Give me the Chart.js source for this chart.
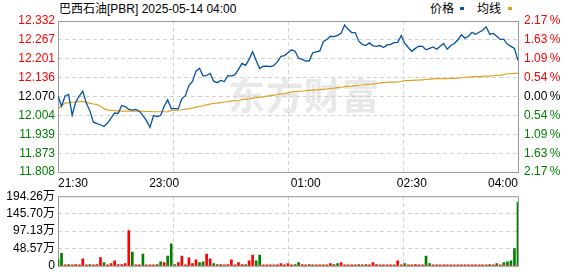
<!DOCTYPE html>
<html><head><meta charset="utf-8">
<script src="https://cdn.jsdelivr.net/npm/chart.js@4"></script>
<style>
html,body{margin:0;padding:0;background:#fff;width:578px;height:276px;overflow:hidden;}
#wrap{position:relative;width:578px;height:276px;font-family:"Liberation Sans",Arial,"Noto Sans CJK SC",sans-serif;font-size:12px;color:#000;}
.abs{position:absolute;white-space:nowrap;line-height:14px;}
#wm{position:absolute;left:228px;top:73px;font-family:"Noto Sans CJK SC",sans-serif;font-weight:bold;font-size:37px;line-height:42px;color:#e8e8e8;letter-spacing:1px;white-space:nowrap;}
canvas{position:absolute;left:0;}
.mk{position:absolute;width:4px;height:3px;}
</style>
</head>
<body>
<div id="wrap">
  <div id="wm">东方财富</div>
  <div class="abs" style="left:59px;top:2px;">巴西石油[PBR] 2025-05-14 04:00</div>
  <div class="abs" style="left:430px;top:2px;">价格</div>
  <div class="mk" style="left:460px;top:7px;background:#0452a4;"></div>
  <div class="abs" style="left:477px;top:2px;">均线</div>
  <div class="mk" style="left:508px;top:7px;background:#e0a21e;"></div>
  <canvas id="pc" width="578" height="190" style="top:0;"></canvas>
  <canvas id="vc" width="578" height="90" style="top:186px;"></canvas>
</div>
<script>
// ---- data ----
const STEP = 3; // minutes between samples, 21:30 .. 04:00 (390 minutes)
const timeTickMinutes = [0, 90, 210, 300, 390];
const timeTickLabels = ['21:30', '23:00', '01:00', '02:30', '04:00'];
const gridMinutes = [97.5, 195, 292.5];
const priceTicks = [11.808, 11.873, 11.939, 12.004, 12.070, 12.136, 12.201, 12.267, 12.332];
const priceTickLabels = ['11.808','11.873','11.939','12.004','12.070','12.136','12.201','12.267','12.332'];
const pctTickLabels = ['2.17\u2009%','1.63\u2009%','1.09\u2009%','0.54\u2009%','0.00\u2009%','0.54\u2009%','1.09\u2009%','1.63\u2009%','2.17\u2009%'];
const volTicks = [0, 48.57, 97.13, 145.70, 194.26];
const volTickLabels = ['0', '48.57万', '97.13万', '145.70万', '194.26万'];

const priceValues = [
 12.073,12.036,12.072,12.077,12.005,12.050,12.071,12.088,12.047,12.021,
 11.981,11.976,11.972,11.966,11.978,11.995,12.013,12.011,12.039,12.035,
 12.025,12.023,12.025,12.019,12.004,11.986,11.963,12.004,12.000,12.004,
 12.036,12.059,12.028,12.028,12.028,12.063,12.073,12.108,12.122,12.158,
 12.168,12.141,12.143,12.150,12.123,12.118,12.126,12.122,12.143,12.141,
 12.146,12.164,12.185,12.178,12.199,12.226,12.195,12.167,12.175,12.175,
 12.174,12.178,12.190,12.209,12.212,12.222,12.232,12.227,12.203,12.199,
 12.193,12.194,12.222,12.225,12.228,12.261,12.268,12.279,12.278,12.282,
 12.289,12.318,12.303,12.292,12.292,12.262,12.251,12.247,12.256,12.246,
 12.244,12.247,12.240,12.249,12.251,12.257,12.258,12.282,12.254,12.240,
 12.227,12.237,12.245,12.244,12.232,12.237,12.242,12.234,12.244,12.254,
 12.234,12.247,12.254,12.267,12.284,12.272,12.279,12.293,12.286,12.293,
 12.300,12.312,12.286,12.289,12.279,12.268,12.268,12.251,12.244,12.237,
 12.195
];
const avgValues = [
 12.025,12.039,12.047,12.049,12.050,12.051,12.052,12.053,12.050,12.047,
 12.044,12.042,12.036,12.028,12.023,12.022,12.021,12.020,12.019,12.019,
 12.019,12.019,12.019,12.019,12.019,12.018,12.018,12.017,12.017,12.017,
 12.017,12.017,12.022,12.022,12.023,12.024,12.026,12.027,12.030,12.033,
 12.036,12.038,12.041,12.044,12.046,12.047,12.049,12.051,12.052,12.054,
 12.056,12.057,12.059,12.061,12.062,12.064,12.066,12.068,12.069,12.071,
 12.073,12.075,12.077,12.079,12.080,12.083,12.086,12.087,12.088,12.089,
 12.090,12.091,12.092,12.093,12.094,12.095,12.096,12.098,12.099,12.101,
 12.102,12.104,12.105,12.106,12.108,12.109,12.110,12.111,12.112,12.113,
 12.115,12.117,12.118,12.119,12.120,12.120,12.121,12.122,12.125,12.125,
 12.126,12.127,12.127,12.128,12.129,12.130,12.131,12.132,12.132,12.132,
 12.132,12.133,12.133,12.134,12.135,12.136,12.137,12.138,12.139,12.139,
 12.140,12.141,12.141,12.142,12.143,12.144,12.146,12.149,12.149,12.150,
 12.150
];
// volume in 万 shares; rising minutes (red) and falling minutes (green)
const volUp = [
 0,0,2.6,0,2.6,3.5,2.6,19.4,2.6,0,
 2.6,3.5,23,0,2.6,6,14,3.5,3.5,6,
 98.6,0,2.6,2.6,0,2.6,2.6,2.6,0,0,
 8.8,0,0,0,8.8,27,2.6,22,6,16.7,
 0,0,32.6,19.4,0,0,3.5,2.6,3.5,16.7,
 2.6,8.8,3.5,0,14,30,0,0,2.6,2.6,
 2.6,2.6,2.6,6,2.6,6,2.6,0,0,3.5,
 2.6,0,2.6,2.6,2.6,2.6,2.6,6,0,0,
 8.8,2.6,2.6,2.6,2.6,0,2.6,0,2.6,8.8,
 3.5,2.6,2.6,2.6,2.6,2.6,14,2.6,0,2.6,
 2.6,3.5,2.6,2.6,0,0,2.6,2.6,2.6,2.6,
 2.6,2.6,2.6,2.6,2.6,2.6,2.6,2.6,2.6,2.6,
 2.6,2.6,0,2.6,0,2.6,0,0,0,0,
 0
];
const volDown = [
 17.6,35,0,3.5,0,0,0,0,0,3.5,
 0,0,0,9,0,0,0,0,0,0,
 0,38,0,0,32.6,0,0,0,3.5,11.4,
 0,27,61.6,3.5,0,0,0,0,0,0,
 8.8,11.4,0,0,6,3.5,0,0,0,0,
 0,0,0,3.5,0,0,14,30,0,0,
 0,0,0,0,0,0,0,3.5,8.8,0,
 0,3.5,0,0,0,0,0,0,3.5,6,
 0,0,0,0,0,3.5,0,3.5,0,0,
 0,0,0,0,0,0,0,0,6,0,
 0,0,0,0,27,6,0,0,0,0,
 0,0,0,0,0,0,0,0,0,0,
 0,0,3.5,0,6,0,8.8,11.4,14,48,
 178
];

// ---- styles ----
const RED = '#ff0000', GREEN = '#008000', BLUE = '#0452a4', GOLD = '#e0a21e';
const GRID = '#d2d2d2', BORDER = '#999999';
Chart.defaults.font.family = '"Liberation Sans", Arial, "Noto Sans CJK SC", sans-serif';
Chart.defaults.font.size = 12;
Chart.defaults.color = '#000';

const boxPlugin = {
  id: 'box',
  beforeDatasetsDraw(chart) {
    const { ctx, chartArea: a } = chart;
    ctx.save();
    ctx.strokeStyle = BORDER;
    ctx.lineWidth = 1;
    ctx.strokeRect(a.left + 0.5, a.top + 0.5, a.right - a.left, a.bottom - a.top);
    ctx.restore();
  }
};
const toXY = arr => arr.map((v, i) => ({ x: i * STEP, y: v }));
const setTicks = list => s => { s.ticks = list.map(v => ({ value: v })); };
const vGrid = {
  type: 'linear', min: 0, max: 390, offset: false, position: 'bottom',
  afterBuildTicks: setTicks(gridMinutes),
  ticks: { display: false },
  grid: { color: GRID, drawTicks: false, offset: false },
  border: { display: false, dash: [4, 3] },
  afterFit: s => { s.height = 0; }
};
const sideColor = ctx => ctx.index < 4 ? GREEN : (ctx.index === 4 ? '#000' : RED);

new Chart(document.getElementById('pc'), {
  type: 'line',
  data: { datasets: [
    { label: '价格', data: toXY(priceValues), borderColor: BLUE, borderWidth: 1.3, pointRadius: 0, tension: 0 },
    { label: '均线', data: toXY(avgValues), borderColor: GOLD, borderWidth: 1.2, pointRadius: 0, tension: 0 }
  ]},
  options: {
    responsive: false, animation: false, devicePixelRatio: 1,
    layout: { padding: { top: 21, left: 0, right: 0, bottom: 0 } },
    plugins: { legend: { display: false }, tooltip: { enabled: false } },
    scales: {
      x: {
        type: 'linear', min: 0, max: 390, offset: false,
        afterBuildTicks: setTicks(timeTickMinutes),
        ticks: { callback: (v, i) => timeTickLabels[i], align: 'inner', autoSkip: false, maxRotation: 0, padding: 4, color: '#000' },
        grid: { display: false, drawTicks: false },
        border: { display: false },
        afterFit: s => { s.height = 18; }
      },
      xg: vGrid,
      y: {
        position: 'left', min: 11.808, max: 12.332,
        afterBuildTicks: setTicks(priceTicks),
        ticks: { callback: (v, i) => priceTickLabels[i], color: sideColor, padding: 3 },
        grid: { color: GRID, drawTicks: false },
        border: { display: false, dash: [4, 3] },
        afterFit: s => { s.width = 58; }
      },
      y2: {
        position: 'right', min: 11.808, max: 12.332,
        afterBuildTicks: setTicks(priceTicks),
        ticks: { callback: (v, i) => pctTickLabels[i], color: sideColor, padding: 6 },
        grid: { display: false, drawTicks: false },
        border: { display: false },
        afterFit: s => { s.width = 60; }
      }
    }
  },
  plugins: [boxPlugin]
});

new Chart(document.getElementById('vc'), {
  type: 'bar',
  data: { datasets: [
    { label: 'up', data: toXY(volUp), backgroundColor: RED, barThickness: 2, grouped: false },
    { label: 'down', data: toXY(volDown), backgroundColor: GREEN, barThickness: 2, grouped: false }
  ]},
  options: {
    responsive: false, animation: false, devicePixelRatio: 1,
    layout: { padding: { top: 10, left: 0, right: 60, bottom: 7 } },
    plugins: { legend: { display: false }, tooltip: { enabled: false } },
    scales: {
      x: { type: 'linear', min: 0, max: 390, offset: false, display: false },
      xg: Object.assign({}, vGrid, { grid: { color: GRID, drawTicks: false, offset: false } }),
      y: {
        position: 'left', min: 0, max: 194.26,
        afterBuildTicks: setTicks(volTicks),
        ticks: { callback: (v, i) => volTickLabels[i], color: '#000', padding: 3 },
        grid: { color: GRID, drawTicks: false },
        border: { display: false, dash: [4, 3] },
        afterFit: s => { s.width = 58; }
      }
    }
  },
  plugins: [boxPlugin]
});
</script>
</body></html>
